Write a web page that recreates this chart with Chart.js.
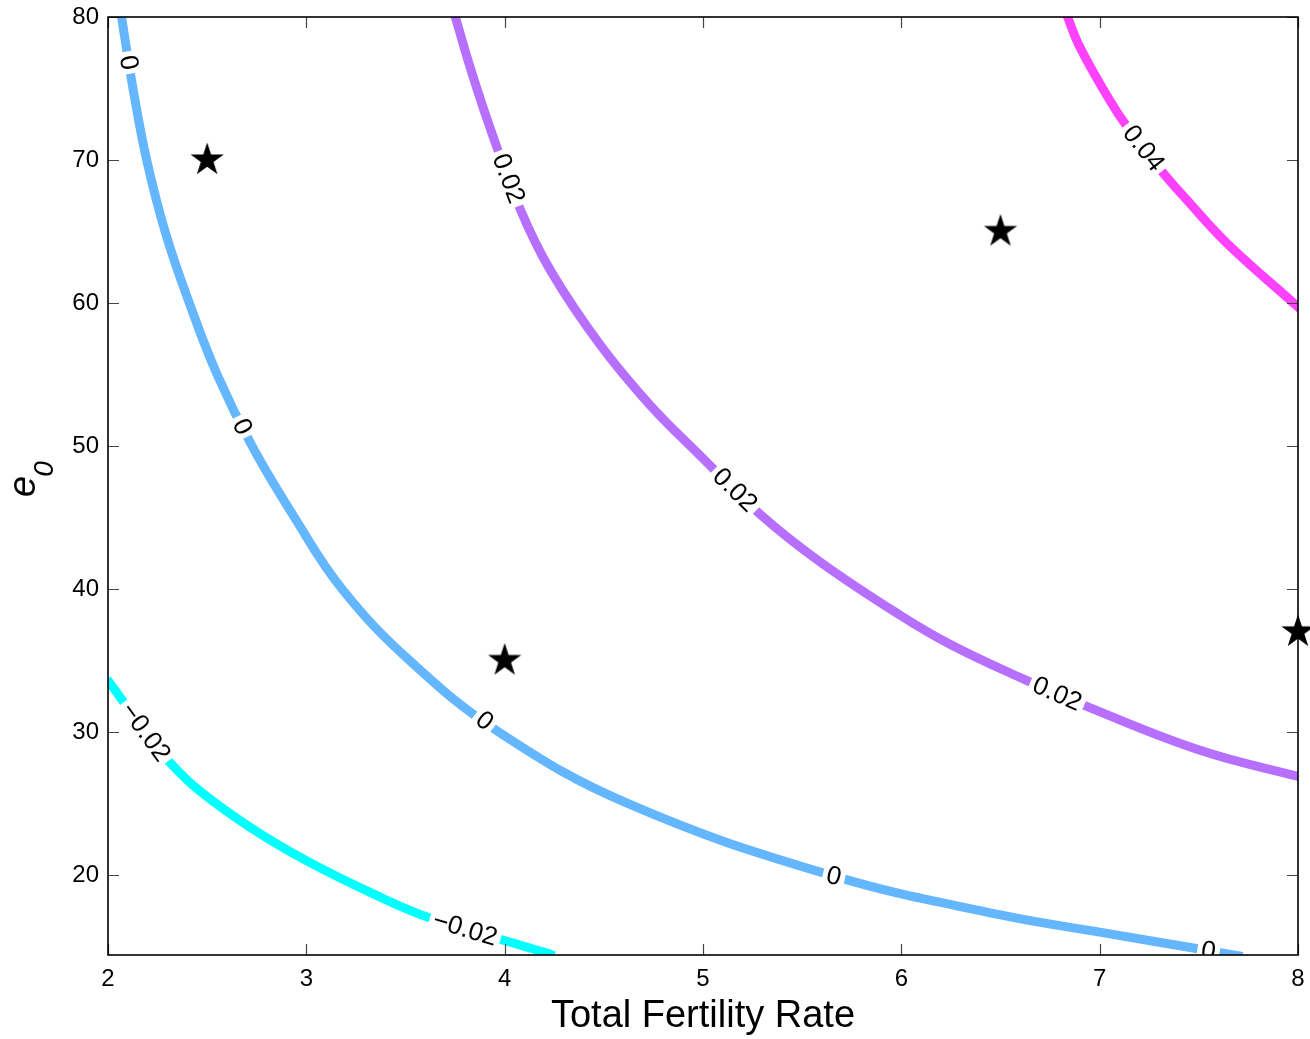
<!DOCTYPE html>
<html>
<head>
<meta charset="utf-8">
<script src="https://cdn.jsdelivr.net/npm/chart.js@4.4.1/dist/chart.umd.min.js"></script>
<style>
  html, body { margin: 0; padding: 0; background: #fff; }
  #wrap { width: 1310px; height: 1039px; }
</style>
</head>
<body>
<div id="wrap"><canvas id="c" width="1310" height="1039"></canvas></div>
<script>
// ---------- data ----------
const xTicks = [2, 3, 4, 5, 6, 7, 8];
const yTicks = [20, 30, 40, 50, 60, 70, 80];
const xRange = [2, 8];
const yRange = [14.4, 80];

const levelNames = ['−0.02', '0', '0.02', '0.04'];
const levelColors = ['#00FFFF', '#64B7FF', '#B76FFF', '#FF42FF'];

const contourNeg002 = [[1.995, 33.7], [2.19, 30.0], [2.31, 27.9], [2.46, 25.9], [2.72, 23.3], [3.0, 21.0], [3.37, 18.46], [3.62, 17.0], [3.99, 15.45], [4.21, 14.55], [4.25, 14.35]];
const contour0 = [[2.065, 80.3], [2.126, 75], [2.195, 70], [2.29, 64.9], [2.41, 60], [2.55, 55], [2.726, 50], [2.94, 45], [3.18, 40], [3.52, 35], [3.97, 30], [4.62, 25], [5.64, 20], [6.5, 17.2], [7.0, 16.0], [7.51, 14.8], [7.72, 14.3]];
const contour002 = [[3.745, 80.3], [3.83, 76.3], [3.93, 72.1], [4.08, 66.5], [4.23, 62.3], [4.48, 57.1], [4.73, 52.9], [4.98, 49.4], [5.29, 45.2], [5.59, 41.9], [5.99, 38.2], [6.25, 36.1], [6.60, 33.8], [6.95, 31.7], [7.51, 28.7], [8.01, 26.85]];
const contour004 = [[6.83, 80.3], [6.90, 77.9], [7.05, 74.2], [7.14, 72.3], [7.32, 69.1], [7.44, 67.2], [7.64, 64.2], [8.01, 59.6]];
const contours = [contourNeg002, contour0, contour002, contour004];

// contour label positions: [level index, x, y]
const contourLabels = [
  [0, 2.19, 30.0], [0, 3.80, 16.2],
  [1, 2.10, 76.8], [1, 2.67, 51.3], [1, 3.90, 30.8], [1, 5.66, 19.9], [1, 7.55, 14.8],
  [2, 4.00, 68.6], [2, 5.16, 46.9], [2, 6.79, 32.8],
  [3, 7.22, 70.8]
];

const starX = [2.5, 4, 6.5, 8];
const starY = [70, 35, 65, 37];

// ---------- helpers ----------
const FONT = '"Liberation Sans", Arial, Helvetica, sans-serif';

function makeStar(R) {
  let size = Math.ceil(2 * R + 4);
  if (size % 2) size += 1;
  const c = document.createElement('canvas');
  c.width = c.height = size;
  const g = c.getContext('2d');
  const cx = size / 2, cy = size / 2, r = R * 0.382;
  g.beginPath();
  for (let i = 0; i < 10; i++) {
    const a = -Math.PI / 2 + i * Math.PI / 5;
    const rr = (i % 2) ? r : R;
    g.lineTo(cx + rr * Math.cos(a), cy + rr * Math.sin(a));
  }
  g.closePath();
  g.fillStyle = '#000';
  g.fill();
  return c;
}

const datasets = contours.map((pts, i) => ({
  label: levelNames[i],
  data: pts.map(p => ({ x: p[0], y: p[1] })),
  showLine: true,
  borderColor: levelColors[i],
  backgroundColor: levelColors[i],
  borderWidth: 9,
  borderCapStyle: 'butt',
  borderJoinStyle: 'round',
  pointRadius: 0,
  tension: 0.4,
  clip: 0
}));
datasets.push({
  label: 'stars',
  data: starX.map((x, i) => ({ x, y: starY[i] })),
  pointStyle: makeStar(17.5),
  pointRadius: 18,
  showLine: false,
  clip: false
});

const labelPlugin = {
  id: 'clabels',
  afterDatasetsDraw(chart) {
    const { ctx, chartArea: a, scales: { x, y } } = chart;
    ctx.save();
    ctx.beginPath();
    ctx.rect(a.left, a.top, a.right - a.left, a.bottom - a.top);
    ctx.clip();
    ctx.font = '26px ' + FONT;
    contourLabels.forEach(([li, lx, ly]) => {
      const text = levelNames[li];
      const pts = chart.getDatasetMeta(li).data;
      const px = x.getPixelForValue(lx), py = y.getPixelForValue(ly);
      let best = Infinity, ang = 0, sx = px, sy = py;
      for (let i = 0; i < pts.length - 1; i++) {
        const ax = pts[i].x, ay = pts[i].y, bx = pts[i + 1].x, by = pts[i + 1].y;
        const dx = bx - ax, dy = by - ay, L2 = dx * dx + dy * dy;
        let t = ((px - ax) * dx + (py - ay) * dy) / L2;
        t = Math.max(0, Math.min(1, t));
        const qx = ax + t * dx, qy = ay + t * dy;
        const d = (px - qx) ** 2 + (py - qy) ** 2;
        if (d < best) { best = d; ang = Math.atan2(dy, dx); sx = qx; sy = qy; }
      }
      if (ang > Math.PI / 2) ang -= Math.PI;
      if (ang < -Math.PI / 2) ang += Math.PI;
      const w = ctx.measureText(text).width;
      const gw = w + 8;
      ctx.save();
      ctx.translate(sx, sy);
      ctx.rotate(ang);
      ctx.fillStyle = '#fff';
      ctx.fillRect(-gw / 2, -10, gw, 20);
      ctx.fillStyle = '#000';
      ctx.textAlign = 'center';
      ctx.textBaseline = 'middle';
      ctx.fillText(text, 0, 1);
      ctx.restore();
    });
    ctx.restore();
  }
};

const framePlugin = {
  id: 'frame',
  afterDraw(chart) {
    const { ctx, chartArea: a, scales: { x, y } } = chart;
    ctx.save();
    ctx.strokeStyle = '#444';
    ctx.lineWidth = 1.2;
    const TL = 11;
    ctx.beginPath();
    xTicks.forEach(v => {
      const p = Math.round(x.getPixelForValue(v)) + 0.5;
      ctx.moveTo(p, a.bottom); ctx.lineTo(p, a.bottom - TL);
      ctx.moveTo(p, a.top); ctx.lineTo(p, a.top + TL);
    });
    yTicks.forEach(v => {
      const p = Math.round(y.getPixelForValue(v)) + 0.5;
      ctx.moveTo(a.left, p); ctx.lineTo(a.left + TL, p);
      ctx.moveTo(a.right, p); ctx.lineTo(a.right - TL, p);
    });
    ctx.stroke();
    ctx.strokeStyle = '#000';
    ctx.lineWidth = 1.6;
    ctx.strokeRect(a.left, a.top, a.right - a.left, a.bottom - a.top);
    // y axis title: e with subscript 0 (rotated)
    ctx.fillStyle = '#000';
    ctx.translate(35, 497);
    ctx.rotate(-Math.PI / 2);
    ctx.textBaseline = 'alphabetic';
    ctx.textAlign = 'left';
    ctx.font = 'italic 38px ' + FONT;
    ctx.fillText('e', 0, 0);
    const ew = ctx.measureText('e').width;
    ctx.font = 'italic 28px ' + FONT;
    ctx.fillText('0', ew - 1, 18);
    ctx.restore();
  }
};

function zeroPad(s) { s.paddingTop = 0; s.paddingBottom = 0; s.paddingLeft = 0; s.paddingRight = 0; }

new Chart(document.getElementById('c'), {
  type: 'scatter',
  data: { datasets },
  options: {
    responsive: false,
    animation: false,
    events: [],
    layout: { autoPadding: false, padding: { top: 17, right: 12, left: 0, bottom: 0 } },
    plugins: { legend: { display: false }, tooltip: { enabled: false } },
    scales: {
      x: {
        type: 'linear', min: xRange[0], max: xRange[1],
        afterBuildTicks: s => { s.ticks = xTicks.map(v => ({ value: v })); },
        afterFit: s => { s.height = 84; zeroPad(s); },
        grid: { display: false, drawTicks: false },
        border: { display: false },
        ticks: { font: { family: FONT, size: 24 }, color: '#000', padding: 10, maxRotation: 0 },
        title: { display: true, text: 'Total Fertility Rate', color: '#000', font: { family: FONT, size: 38 }, padding: { top: 0, bottom: 0 } }
      },
      y: {
        type: 'linear', min: yRange[0], max: yRange[1],
        afterBuildTicks: s => { s.ticks = yTicks.map(v => ({ value: v })); },
        afterFit: s => { s.width = 108; zeroPad(s); },
        grid: { display: false, drawTicks: false },
        border: { display: false },
        ticks: { font: { family: FONT, size: 24 }, color: '#000', padding: 9 }
      }
    }
  },
  plugins: [labelPlugin, framePlugin]
});
</script>
</body>
</html>
